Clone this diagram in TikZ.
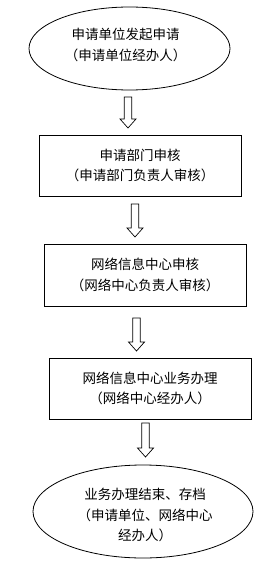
\documentclass[tikz,border=0pt]{standalone}
\usepackage{fontspec}
\newfontfamily\cjk{Noto Sans CJK SC}
\usetikzlibrary{shapes.geometric}
\tikzset{
  every node/.style={font=\cjk\fontsize{13.5}{20.5}\selectfont, align=center, inner sep=0pt},
  oval/.style={draw, ellipse, line width=0.8pt},
  stepbox/.style={draw, rectangle, line width=0.8pt, minimum width=202pt, minimum height=61pt},
  blk/.style={draw, line width=0.7pt, fill=white},
  pics/downarrow/.style={code={
    \draw[blk] (-3.8,0) -- (3.8,0) -- (3.8,#1-9) -- (8,#1-9) -- (0,#1) -- (-8,#1-9) -- (-3.8,#1-9) -- cycle;
  }}
}
\begin{document}
\begin{tikzpicture}[x=1pt,y=-1pt]
\useasboundingbox (0,0) rectangle (270,580);
\node[oval, minimum width=201pt, minimum height=83pt] (start) at (129.5,48.5) {};
\node (starttxt) at (125.5,45) {申请单位发起申请\\（申请单位经办人）};
\node[stepbox] (b1) at (140,165.5) {申请部门申核\\（申请部门负责人审核）};
\node[stepbox, minimum height=62pt] (b2) at (145,275) {网络信息中心申核\\（网络中心负责人审核）};
\node[stepbox] (b3) at (150,388.5) {网络信息中心业务办理\\（网络中心经办人）};
\node[oval, minimum width=220pt, minimum height=93pt] (end) at (143,511.5) {};
\node (endtxt) at (145,515) {业务办理结束、存档\\（申请单位、网络中心\\经办人）};
\pic at (128,97) {downarrow=31};
\pic at (135,204) {downarrow=33};
\pic at (136.5,318) {downarrow=33};
\pic at (145.5,423) {downarrow=34};
\end{tikzpicture}
\end{document}
